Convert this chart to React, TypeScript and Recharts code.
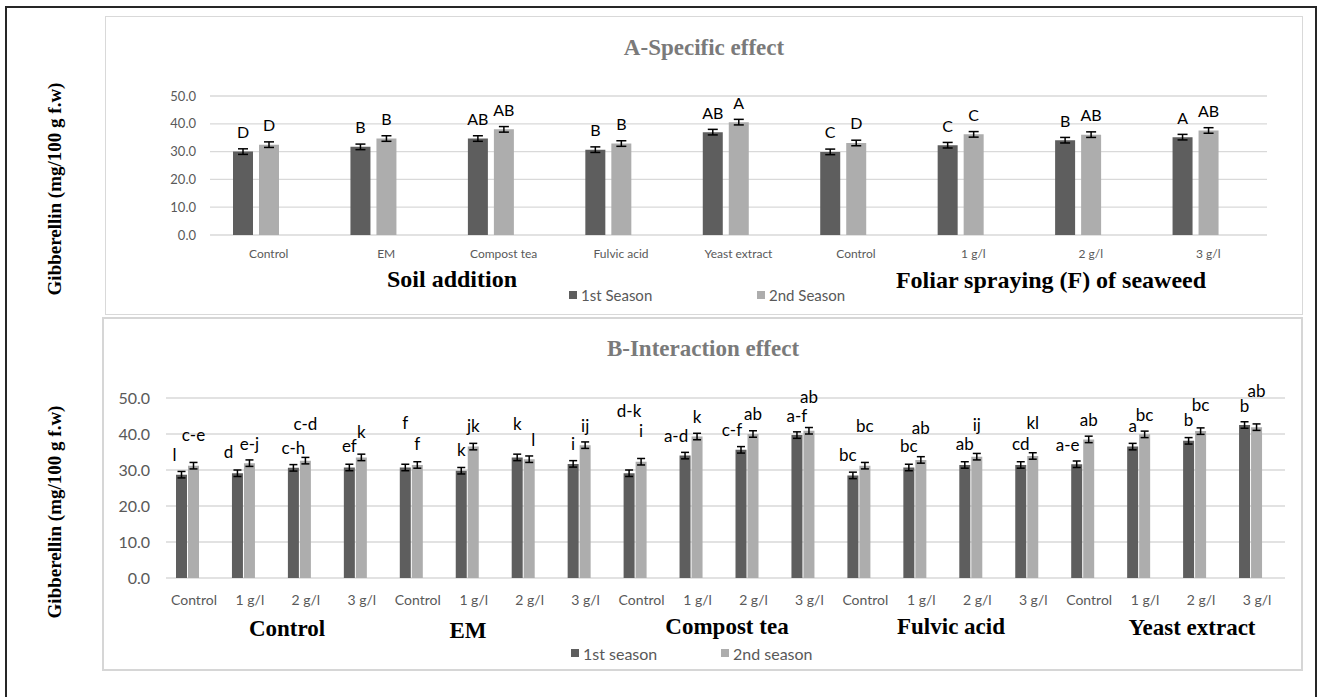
import { Bar, BarChart, CartesianGrid, ErrorBar, LabelList, XAxis, YAxis } from "recharts"

// A - specific effect (soil additions, then seaweed foliar spray)
const topCategories = ["Control", "EM", "Compost tea", "Fulvic acid", "Yeast extract", "Control", "1 g/l", "2 g/l", "3 g/l"]
const topSeason1 = [30.0, 31.7, 34.7, 30.7, 37.0, 29.9, 32.3, 34.1, 35.2]
const topSeason2 = [32.5, 34.7, 38.0, 32.9, 40.6, 33.1, 36.2, 36.1, 37.6]
const topErr1 = [1.0, 1.0, 1.0, 1.0, 1.0, 1.0, 1.0, 1.0, 1.0]
const topErr2 = [1.0, 1.0, 1.0, 1.0, 1.0, 1.0, 1.0, 1.0, 1.0]
const topLetters1 = ["D", "B", "AB", "B", "AB", "C", "C", "B", "A"]
const topLetters2 = ["D", "B", "AB", "B", "A", "D", "C", "AB", "AB"]

// B - interaction effect (seaweed dose within each soil addition)
const doses = ["Control", "1 g/l", "2 g/l", "3 g/l"]
const bottomCategories = [...doses, ...doses, ...doses, ...doses, ...doses]
const bottomSeason1 = [28.7, 29.1, 30.6, 30.7, 30.7, 29.8, 33.5, 31.7, 29.1, 34.0, 35.6, 39.7, 28.5, 30.7, 31.4, 31.4, 31.6, 36.5, 38.1, 42.5]
const bottomSeason2 = [31.2, 31.9, 32.6, 33.5, 31.4, 36.5, 33.0, 36.9, 32.3, 39.3, 40.0, 40.9, 31.2, 32.8, 33.7, 33.9, 38.5, 39.9, 40.8, 41.9]
const bottomErr1 = [0.9, 0.9, 0.9, 0.9, 0.9, 0.9, 0.9, 0.9, 0.9, 0.9, 0.9, 0.9, 0.9, 0.9, 0.9, 0.9, 0.9, 0.9, 0.9, 0.9]
const bottomErr2 = [0.9, 0.9, 0.9, 0.9, 0.9, 0.9, 0.9, 0.9, 0.9, 0.9, 0.9, 0.9, 0.9, 0.9, 0.9, 0.9, 0.9, 0.9, 0.9, 0.9]
const bottomLetters1 = ["l", "d", "c-h", "ef", "f", "k", "k", "i", "d-k", "a-d", "c-f", "a-f", "bc", "bc", "ab", "cd", "a-e", "a", "b", "b"]
const bottomLetters2 = ["c-e", "e-j", "c-d", "k", "f", "jk", "l", "ij", "i", "k", "ab", "ab", "bc", "ab", "ij", "kl", "ab", "bc", "bc", "ab"]

const yTicks = [0, 10, 20, 30, 40, 50]

// letter nudges (px): extra lift and sideways shift so neighbouring letters stay apart
const bottomLift1 = [0, 2, 0, 2, 25, 1, 14, 0, 43, 0, 0, 0, 1, 2, 1, 1, 0, 1, 1, 0]
const bottomLift2 = [11, 0, 17, 6, 1, 1, 0, 0, 11, 0, 1, 14, 20, 12, 12, 13, 0, 0, 7, 17]
const bottomShift1 = [-7, -9, 0, 0, 0, 0, 0, 0, 0, -9, -9, 0, -5, 0, 0, 0, -9, 0, 0, 0]
const bottomShift2 = [0, 0, 0, 0, 0, 0, 4, 0, 0, 0, 0, 0, 0, 0, 0, 0, 0, 0, 0, 0]

const DARK = "#5e5e5e"
const LIGHT = "#adadad"
const GRID = "#d9d9d9"
const TICK = "#595959"
const SANS = "Lato, 'Open Sans', sans-serif"
const SERIF = "'Liberation Serif', 'Times New Roman', serif"

const topData = topCategories.map((name, i) => ({
  id: i,
  name,
  s1: topSeason1[i],
  s2: topSeason2[i],
  e1: topErr1[i],
  e2: topErr2[i],
  l1: topLetters1[i],
  l2: topLetters2[i],
}))

const bottomData = bottomCategories.map((name, i) => ({
  id: i,
  name,
  s1: bottomSeason1[i],
  s2: bottomSeason2[i],
  e1: bottomErr1[i],
  e2: bottomErr2[i],
  l1: bottomLetters1[i],
  l2: bottomLetters2[i],
}))

function letters(fontSize: number, rise: number, lift: number[] = [], shift: number[] = []) {
  return (props: any) => {
    const { x, y, width, value, index } = props
    return (
      <text
        x={Number(x) + Number(width) / 2 + (shift[index] ?? 0)}
        y={Number(y) - rise - (lift[index] ?? 0)}
        textAnchor="middle"
        dominantBaseline="central"
        fontSize={fontSize}
        fontFamily={SANS}
        fill="#000"
      >
        {value}
      </text>
    )
  }
}

function LegendRow({ top, left1, left2, labels, fontSize }: { top: number; left1: number; left2: number; labels: string[]; fontSize: number }) {
  const item = (left: number, color: string, text: string) => (
    <div style={{ position: "absolute", left, top: top - 8, height: 16, display: "flex", alignItems: "center", whiteSpace: "nowrap" }}>
      <span style={{ width: 8, height: 8, background: color, marginRight: 4 }} />
      <span style={{ fontFamily: SANS, fontSize, color: TICK }}>{text}</span>
    </div>
  )
  return (
    <>
      {item(left1, DARK, labels[0])}
      {item(left2, LIGHT, labels[1])}
    </>
  )
}

function Caption({ x, y, text, size, color = "#000" }: { x: number; y: number; text: string; size: number; color?: string }) {
  return (
    <div
      style={{
        position: "absolute",
        left: x,
        top: y,
        transform: "translate(-50%, -50%)",
        whiteSpace: "nowrap",
        fontFamily: SERIF,
        fontWeight: "bold",
        fontSize: size,
        color,
      }}
    >
      {text}
    </div>
  )
}

function AxisTitle({ x, y }: { x: number; y: number }) {
  return (
    <div
      style={{
        position: "absolute",
        left: x,
        top: y,
        transform: "translate(-50%, -50%) rotate(-90deg)",
        whiteSpace: "nowrap",
        fontFamily: SERIF,
        fontWeight: "bold",
        fontSize: 19,
        color: "#000",
      }}
    >
      Gibberellin (mg/100 g f.w)
    </div>
  )
}

export default function App() {
  return (
    <div style={{ position: "absolute", left: 0, top: 0, width: 1319, height: 697, overflow: "hidden", background: "#fff" }}>
      <div style={{ position: "absolute", left: 5, top: 6, width: 1312, height: 740, border: "2px solid #262626", boxSizing: "border-box" }} />
      <div style={{ position: "absolute", left: 105, top: 16, width: 1198, height: 299, border: "1.5px solid #d9d9d9", boxSizing: "border-box" }} />
      <div style={{ position: "absolute", left: 102, top: 317, width: 1201, height: 354, border: "2px solid #d6d6d6", boxSizing: "border-box" }} />

      <AxisTitle x={55} y={189} />
      <AxisTitle x={55} y={512} />

      <Caption x={704} y={48} text="A-Specific effect" size={23} color="#7a7a7a" />
      <Caption x={703} y={349} text="B-Interaction effect" size={23} color="#7a7a7a" />

      <div style={{ position: "absolute", left: 0, top: 0 }}>
        <BarChart
          width={1319}
          height={320}
          data={topData}
          margin={{ top: 96, right: 52, left: 150, bottom: 55 }}
          barSize={20}
          barGap={6}
        >
          <CartesianGrid vertical={false} stroke={GRID} strokeWidth={1.3} />
          <XAxis
            dataKey="id"
            tickFormatter={(i: number) => topCategories[i]}
            axisLine={false}
            tickLine={false}
            tickSize={0}
            tickMargin={14}
            height={30}
            interval={0}
            tick={{ fontSize: 12, fill: TICK, fontFamily: SANS }}
          />
          <YAxis
            domain={[0, 50]}
            ticks={yTicks}
            tickFormatter={(v: number) => v.toFixed(1)}
            width={60}
            axisLine={false}
            tickLine={false}
            tickSize={0}
            tickMargin={14}
            tick={{ fontSize: 13, fill: TICK, fontFamily: SANS }}
          />
          <Bar dataKey="s1" fill={DARK} isAnimationActive={false}>
            <ErrorBar dataKey="e1" width={5} stroke="#000" strokeWidth={1.5} />
            <LabelList dataKey="l1" content={letters(16, 20)} />
          </Bar>
          <Bar dataKey="s2" fill={LIGHT} isAnimationActive={false}>
            <ErrorBar dataKey="e2" width={5} stroke="#000" strokeWidth={1.5} />
            <LabelList dataKey="l2" content={letters(16, 20)} />
          </Bar>
          {/* empty third slot, keeps the pair left of the category centre */}
          <Bar dataKey="spacer" fill="none" isAnimationActive={false} />
        </BarChart>
      </div>

      <Caption x={452} y={279} text="Soil addition" size={24} />
      <Caption x={1051} y={280} text="Foliar spraying (F) of seaweed" size={24} />
      <LegendRow top={295} left1={569} left2={757} labels={["1st Season", "2nd Season"]} fontSize={15} />

      <div style={{ position: "absolute", left: 0, top: 320 }}>
        <BarChart
          width={1319}
          height={377}
          data={bottomData}
          margin={{ top: 78, right: 34, left: 106, bottom: 89 }}
          barSize={11}
          barGap={1}
        >
          <CartesianGrid vertical={false} stroke={GRID} strokeWidth={1.5} />
          <XAxis
            dataKey="id"
            tickFormatter={(i: number) => bottomCategories[i]}
            axisLine={false}
            tickLine={false}
            tickSize={0}
            tickMargin={17}
            height={30}
            interval={0}
            tick={{ fontSize: 14, fill: TICK, fontFamily: SANS }}
          />
          <YAxis
            domain={[0, 50]}
            ticks={yTicks}
            tickFormatter={(v: number) => v.toFixed(1)}
            width={60}
            axisLine={false}
            tickLine={false}
            tickSize={0}
            tickMargin={16}
            tick={{ fontSize: 16, fill: TICK, fontFamily: SANS }}
          />
          <Bar dataKey="s1" fill={DARK} isAnimationActive={false}>
            <ErrorBar dataKey="e1" width={4} stroke="#000" strokeWidth={1.5} />
            <LabelList dataKey="l1" content={letters(17, 20, bottomLift1, bottomShift1)} />
          </Bar>
          <Bar dataKey="s2" fill={LIGHT} isAnimationActive={false}>
            <ErrorBar dataKey="e2" width={4} stroke="#000" strokeWidth={1.5} />
            <LabelList dataKey="l2" content={letters(17, 20, bottomLift2, bottomShift2)} />
          </Bar>
          <Bar dataKey="spacer" fill="none" isAnimationActive={false} />
        </BarChart>
      </div>

      <Caption x={287} y={629} text="Control" size={23} />
      <Caption x={468} y={631} text="EM" size={23} />
      <Caption x={727} y={627} text="Compost tea" size={23} />
      <Caption x={951} y={627} text="Fulvic acid" size={23} />
      <Caption x={1192} y={628} text="Yeast extract" size={23} />
      <LegendRow top={653} left1={571} left2={721} labels={["1st season", "2nd season"]} fontSize={16} />
    </div>
  )
}
